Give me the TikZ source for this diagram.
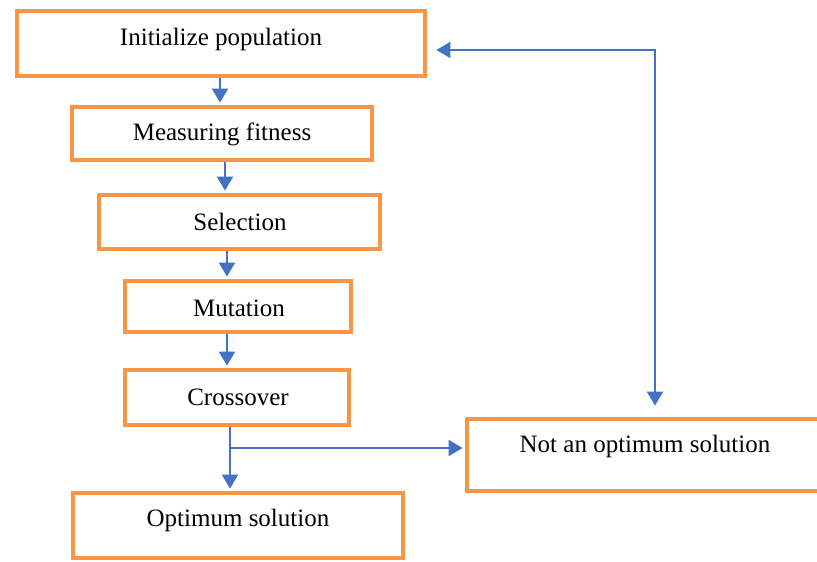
\documentclass[tikz,border=0pt]{standalone}
\usepackage{fontspec}
\setmainfont{Liberation Serif}
\usetikzlibrary{arrows.meta}
\definecolor{boxorange}{HTML}{F79646}
\definecolor{arrblue}{HTML}{4472C4}
\tikzset{
  boxnode/.style={draw=boxorange, line width=4.8pt, minimum width=#1, inner sep=0pt, fill=none},
  lbl/.style={font=\fontsize{25}{30}\selectfont, inner sep=0pt},
  conn/.style={draw=arrblue, line width=2.2pt, -{Triangle[length=14pt,width=16pt]}},
}
\begin{document}
\begin{tikzpicture}[x=1pt,y=-1pt]
\useasboundingbox (0,0) rectangle (817,562);
\node[boxnode=408pt, minimum height=65pt] (b1) at (221,43.5) {};
\node[boxnode=300pt, minimum height=53pt] (b2) at (222,133.5) {};
\node[boxnode=281pt, minimum height=54pt] (b3) at (239.5,222) {};
\node[boxnode=226pt, minimum height=51pt] (b4) at (238,306.5) {};
\node[boxnode=224pt, minimum height=55pt] (b5) at (237,397.5) {};
\node[boxnode=330pt, minimum height=65pt] (b6) at (238,525.5) {};
\node[boxnode=363pt, minimum height=72pt] (b7) at (648.5,455) {};
\node[lbl] (t1) at (221,39) {Initialize population};
\node[lbl] (t2) at (222,134) {Measuring fitness};
\node[lbl] (t3) at (240,222) {Selection};
\node[lbl] (t4) at (239,308) {Mutation};
\node[lbl] (t5) at (238,397) {Crossover};
\node[lbl] (t6) at (238,520) {Optimum solution};
\node[lbl] (t7) at (645,446) {Not an optimum solution};
\draw[conn, shorten >=2pt] ([xshift=-1pt]b1.south) -- ([xshift=-1pt]b1.south |- b2.north);
\draw[conn, shorten >=2pt] ([xshift=3pt]b2.south) -- ([xshift=3pt]b2.south |- b3.north);
\draw[conn, shorten >=2pt] ([xshift=-12.5pt]b3.south) -- ([xshift=-12.5pt]b3.south |- b4.north);
\draw[conn, shorten >=2pt] ([xshift=-11pt]b4.south) -- ([xshift=-11pt]b4.south |- b5.north);
\coordinate (split) at (230,448);
\draw[conn, shorten >=2pt] (split |- b5.south) -- (split |- b6.north);
\draw[conn, shorten >=2pt] (split) -- (split -| b7.west);
\coordinate (fb) at (655,50);
\draw[conn, {Triangle[length=14pt,width=16pt]}-{Triangle[length=14pt,width=16pt]}, shorten <=9pt, shorten >=11pt]
  (b1.east |- fb) -- (fb) -- (fb |- b7.north);
\end{tikzpicture}
\end{document}
